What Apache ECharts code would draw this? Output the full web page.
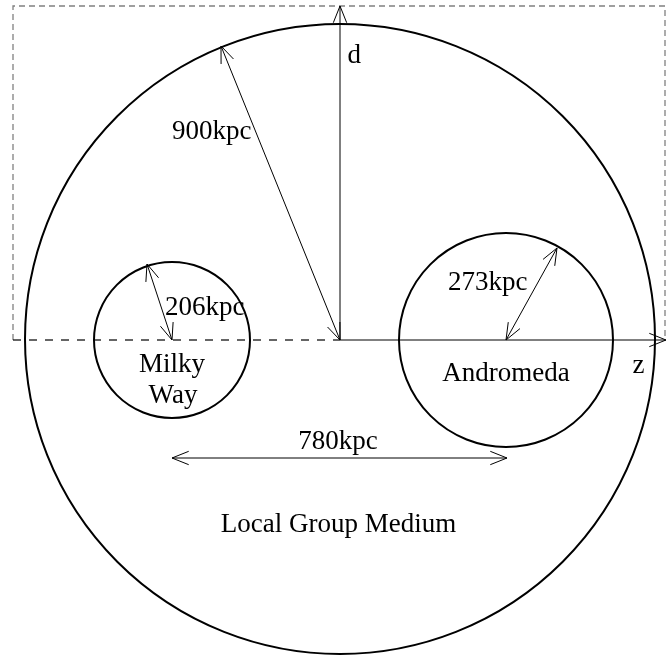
<!DOCTYPE html>
<html>
<head>
<meta charset="utf-8">
<script src="https://cdn.jsdelivr.net/npm/echarts@6/dist/echarts.min.js"></script>
<style>
  html, body { margin: 0; padding: 0; background: #fff; }
  #main { width: 667px; height: 656px; }
</style>
</head>
<body>
<div id="main"></div>
<script>
// diagram units: z to the right, d upward, origin at the centre of the Local Group
const circleZ = [0, -168, 166];
const circleD = [1, 0, 0];
const circleR = [315, 78, 107];

// arrows (start -> end), both = arrow head at both ends
const arrowFrom = [[0, 0], [0, 0], [0, 0], [-168, 0], [166, 0], [-168, -118]];
const arrowTo = [[0, 334], [326, 0], [-119, 294], [-193, 76], [217, 92], [167, -118]];
const arrowBoth = [0, 0, 1, 1, 1, 1];

// dashed frame (gray) and dashed left half of the z axis
const frameZ = [-327, -327, 325, 325];
const frameD = [0, 334, 334, 0];
const axisDashZ = [-327, 0];
const axisDashD = [0, 0];

// text labels (anchor point = baseline)
const labelText = ['d', 'z', '900kpc', '206kpc', 'Milky', 'Way', '273kpc', 'Andromeda', '780kpc', 'Local Group Medium'];
const labelZ = [7.5, 292.5, -168, -175, -168, -167, 108, 166, -2, -1.5];
const labelD = [276, -34, 200, 24, -33, -64, 49, -42, -110, -193];
const labelAlign = ['left', 'left', 'left', 'left', 'center', 'center', 'left', 'center', 'center', 'center'];

const FONT_SIZE = 27;

var myChart = echarts.init(document.getElementById('main'));

// open V arrow head at tip
function headPoints(tip, from) {
  const a = Math.atan2(tip[1] - from[1], tip[0] - from[0]);
  const len = 18, th = 0.38;
  return [
    [tip[0] - len * Math.cos(a - th), tip[1] - len * Math.sin(a - th)],
    tip,
    [tip[0] - len * Math.cos(a + th), tip[1] - len * Math.sin(a + th)]
  ];
}

var option = {
  animation: false,
  grid: { left: 0, right: 0, top: 0, bottom: 0 },
  xAxis: { type: 'value', min: -340, max: 327, show: false },
  yAxis: { type: 'value', min: -316, max: 340, show: false },
  series: [
    {
      // gray dashed frame
      type: 'custom',
      coordinateSystem: 'cartesian2d',
      data: [[0, 0]],
      renderItem: function (params, api) {
        const pts = frameZ.map((z, i) => api.coord([z, frameD[i]]));
        const ax = axisDashZ.map((z, i) => api.coord([z, axisDashD[i]]));
        return {
          type: 'group',
          children: [
            {
              type: 'polyline',
              shape: { points: pts },
              style: { fill: null, stroke: '#808080', lineWidth: 1.3, lineDash: [6, 4] }
            },
            {
              type: 'polyline',
              shape: { points: ax },
              style: { fill: null, stroke: '#000', lineWidth: 1.2, lineDash: [8, 8] }
            }
          ]
        };
      }
    },
    {
      // circles
      type: 'custom',
      coordinateSystem: 'cartesian2d',
      data: circleZ.map((z, i) => [z, circleD[i], circleR[i]]),
      renderItem: function (params, api) {
        const c = api.coord([api.value(0), api.value(1)]);
        const r = api.size([api.value(2), 0])[0];
        return {
          type: 'circle',
          shape: { cx: c[0], cy: c[1], r: r },
          style: { fill: null, stroke: '#000', lineWidth: 2 }
        };
      }
    },
    {
      // arrows
      type: 'custom',
      coordinateSystem: 'cartesian2d',
      data: arrowFrom.map((f, i) => [f[0], f[1], arrowTo[i][0], arrowTo[i][1], arrowBoth[i]]),
      encode: { x: [0, 2], y: [1, 3] },
      renderItem: function (params, api) {
        const p0 = api.coord([api.value(0), api.value(1)]);
        const p1 = api.coord([api.value(2), api.value(3)]);
        const st = { fill: null, stroke: '#000', lineWidth: 1 };
        const children = [
          { type: 'line', shape: { x1: p0[0], y1: p0[1], x2: p1[0], y2: p1[1] }, style: st },
          { type: 'polyline', shape: { points: headPoints(p1, p0) }, style: st }
        ];
        if (api.value(4)) {
          children.push({ type: 'polyline', shape: { points: headPoints(p0, p1) }, style: st });
        }
        return { type: 'group', children: children };
      }
    },
    {
      // labels
      type: 'custom',
      coordinateSystem: 'cartesian2d',
      data: labelZ.map((z, i) => [z, labelD[i]]),
      renderItem: function (params, api) {
        const i = params.dataIndex;
        const p = api.coord([api.value(0), api.value(1)]);
        return {
          type: 'text',
          x: p[0],
          y: p[1] - 0.3 * FONT_SIZE,
          style: {
            text: labelText[i],
            fill: '#000',
            font: FONT_SIZE + 'px "Liberation Serif", "Times New Roman", serif',
            textAlign: labelAlign[i],
            align: labelAlign[i],
            textVerticalAlign: 'middle',
            verticalAlign: 'middle'
          }
        };
      }
    }
  ]
};

option && myChart.setOption(option);
window.addEventListener('resize', function () {
  myChart.resize();
});
</script>
</body>
</html>
